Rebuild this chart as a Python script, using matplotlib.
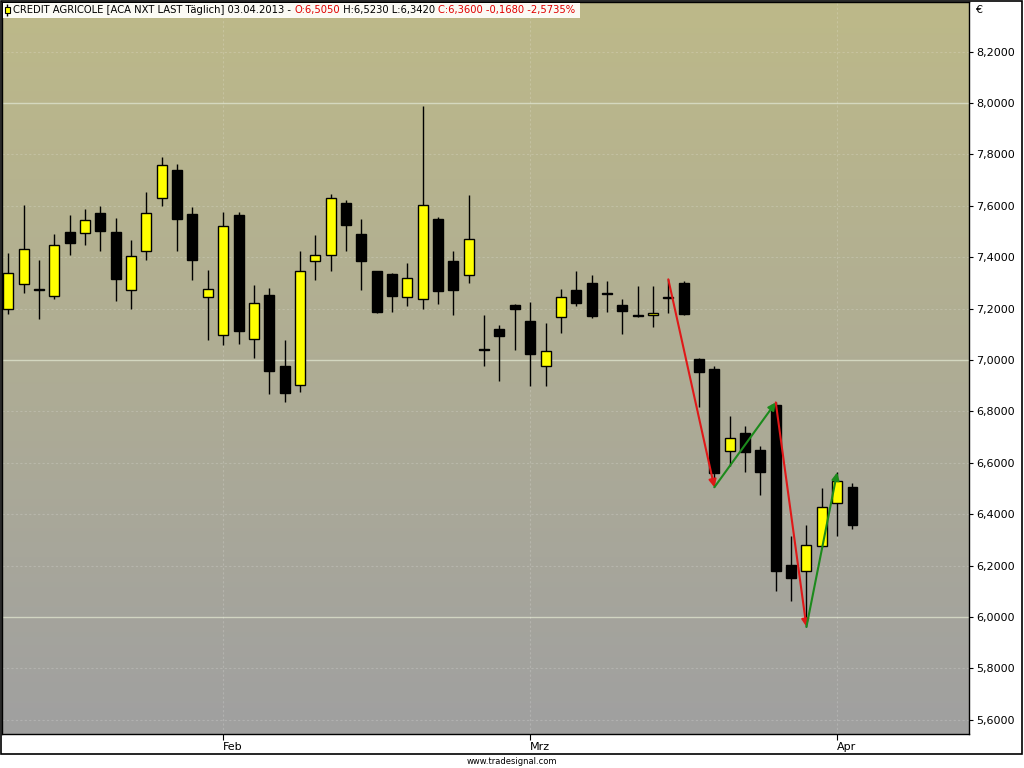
import matplotlib
matplotlib.use("Agg")
import matplotlib.pyplot as plt
import numpy as np
import pandas as pd
from matplotlib.patches import Rectangle

# trading days (Euronext, Good Friday and Easter Monday closed)
dates = [d for d in pd.bdate_range("2013-01-14", "2013-04-03")
         if d.strftime("%Y-%m-%d") not in ("2013-03-29", "2013-04-01")]

opens = [7.200, 7.297, 7.271, 7.249, 7.500, 7.495, 7.573, 7.500, 7.272, 7.424,
         7.630, 7.740, 7.569, 7.247, 7.099, 7.565, 7.083, 7.252, 6.976, 6.902,
         7.385, 7.410, 7.612, 7.489, 7.348, 7.333, 7.247, 7.239, 7.547, 7.384,
         7.332, 7.040, 7.122, 7.213, 7.151, 6.977, 7.169, 7.271, 7.298, 7.260,
         7.216, 7.171, 7.174, 7.241, 7.301, 7.003, 6.967, 6.645, 6.718, 6.650,
         6.824, 6.203, 6.179, 6.276, 6.443, 6.505]
highs = [7.417, 7.605, 7.388, 7.492, 7.566, 7.586, 7.598, 7.552, 7.466, 7.654,
         7.790, 7.764, 7.596, 7.349, 7.577, 7.577, 7.290, 7.282, 7.078, 7.426,
         7.485, 7.647, 7.624, 7.547, 7.348, 7.337, 7.376, 7.990, 7.557, 7.423,
         7.644, 7.174, 7.138, 7.217, 7.226, 7.143, 7.278, 7.345, 7.329, 7.307,
         7.236, 7.288, 7.288, 7.314, 7.307, 7.006, 6.977, 6.783, 6.744, 6.666,
         6.835, 6.317, 6.358, 6.502, 6.563, 6.523]
lows = [7.178, 7.259, 7.158, 7.236, 7.407, 7.446, 7.423, 7.228, 7.197, 7.391,
        7.598, 7.423, 7.311, 7.078, 7.059, 7.061, 7.008, 6.867, 6.837, 6.876,
        7.311, 7.346, 7.426, 7.271, 7.183, 7.187, 7.210, 7.197, 7.219, 7.175,
        7.301, 6.977, 6.917, 7.039, 6.899, 6.899, 7.104, 7.210, 7.163, 7.187,
        7.103, 7.169, 7.129, 7.184, 7.177, 6.816, 6.505, 6.589, 6.565, 6.475,
        6.103, 6.064, 5.962, 6.272, 6.317, 6.342]
closes = [7.340, 7.433, 7.271, 7.449, 7.454, 7.543, 7.501, 7.315, 7.406, 7.573,
          7.759, 7.548, 7.388, 7.278, 7.522, 7.113, 7.223, 6.958, 6.872, 7.348,
          7.410, 7.631, 7.527, 7.384, 7.187, 7.249, 7.320, 7.604, 7.268, 7.272,
          7.472, 7.040, 7.094, 7.200, 7.023, 7.037, 7.247, 7.222, 7.171, 7.255,
          7.191, 7.171, 7.184, 7.241, 7.179, 6.955, 6.560, 6.695, 6.641, 6.563,
          6.181, 6.151, 6.281, 6.427, 6.528, 6.360]

# zigzag pivots (index, 'H' = high / 'L' = low)
pivots = [(43, "H"), (46, "L"), (50, "H"), (52, "L"), (54, "H")]

month_names = {2: "Feb", 3: "Mrz", 4: "Apr"}
y_ticks = [5.6, 5.8, 6.0, 6.2, 6.4, 6.6, 6.8, 7.0, 7.2, 7.4, 7.6, 7.8, 8.0, 8.2]

W, H = 1024, 768
fig = plt.figure(figsize=(W / 100, H / 100), dpi=100)
fig.patch.set_facecolor("white")

ax = fig.add_axes([2 / W, (H - 734) / H, 967 / W, 732 / H])
ymin, ymax = 5.545, 8.393
ax.set_ylim(ymin, ymax)
ax.set_xlim(-0.41, 62.59)

# gradient background
grad = np.linspace(0, 1, 256)[:, None]
top = np.array([189, 185, 137]) / 255
bot = np.array([160, 160, 160]) / 255
img = top[None, None, :] * (1 - grad[..., None]) + bot[None, None, :] * grad[..., None]
ax.imshow(img, extent=[-0.41, 62.59, ymin, ymax], aspect="auto", zorder=0,
          origin="upper")

# grid
for v in y_ticks:
    if abs(v - round(v)) < 1e-6:
        ax.axhline(v, color="#DDE2CC", lw=1, alpha=0.8, zorder=1)
    else:
        ax.axhline(v, color="white", lw=0.8, alpha=0.18, ls=(0, (2, 2)), zorder=1)

n = len(opens)
month_pos = [i for i in range(1, n) if dates[i].month != dates[i - 1].month]
for i in month_pos:
    ax.axvline(i, color="white", lw=0.8, alpha=0.18, ls=(0, (2, 2)), zorder=1)

# candles
body_w = 0.65
for i in range(n):
    o, h, l, c = opens[i], highs[i], lows[i], closes[i]
    ax.vlines(i, l, h, color="black", lw=1, zorder=3)
    lo_b = min(o, c)
    hi_b = max(o, c)
    fc = "#FFFF00" if c > o else "black"
    hgt = max(hi_b - lo_b, 0.004)
    ax.add_patch(Rectangle((i - body_w / 2, lo_b), body_w, hgt,
                           fc=fc, ec="black", lw=1, zorder=4))

# zigzag arrows
for (i0, k0), (i1, k1) in zip(pivots[:-1], pivots[1:]):
    y0 = highs[i0] if k0 == "H" else lows[i0]
    y1 = highs[i1] if k1 == "H" else lows[i1]
    col = "#E01818" if y1 < y0 else "#1C8A1C"
    ax.annotate("", xy=(i1, y1), xytext=(i0, y0),
                arrowprops=dict(arrowstyle="-|>", color=col, lw=1.5,
                                mutation_scale=11, shrinkA=0, shrinkB=0),
                zorder=5)

# axes styling
for s in ax.spines.values():
    s.set_color("black")
    s.set_linewidth(1)
ax.yaxis.tick_right()
ax.set_yticks(y_ticks)
ax.set_yticklabels([f"{v:.4f}".replace(".", ",") for v in y_ticks], fontsize=8)
ax.tick_params(axis="y", direction="out", length=3, pad=2, colors="black")
ax.set_xticks(month_pos)
ax.set_xticklabels([month_names[dates[i].month] for i in month_pos], fontsize=8,
                   ha="left")
ax.tick_params(axis="x", direction="out", length=4, pad=2)

# overlay axes for frame and title (on top of the chart)
bg = fig.add_axes([0, 0, 1, 1])
bg.set_zorder(10)
bg.patch.set_visible(False)
bg.set_xlim(0, W)
bg.set_ylim(H, 0)
bg.axis("off")
bg.add_patch(Rectangle((1, 1), 1021, 753, fill=False, ec="black", lw=1.2))
bg.text(512, 761, "www.tradesignal.com", ha="center", va="center", fontsize=6)
bg.text(975, 10, "€", ha="left", va="center", fontsize=8)

# title line with coloured parts
bg.add_patch(Rectangle((2.5, 2.5), 577, 15, fc="#FBFAF4", ec="none", zorder=2))
bg.vlines(7, 4, 16, color="black", lw=1, zorder=3)
bg.add_patch(Rectangle((4.5, 7), 5, 6, fc="#FFFF00", ec="black", lw=0.8, zorder=4))
parts = [("CREDIT AGRICOLE [ACA NXT LAST Täglich] 03.04.2013 - ", "black"),
         ("O:6,5050", "#E00000"),
         (" H:6,5230 L:6,3420 ", "black"),
         ("C:6,3600 -0,1680 -2,5735%", "#E00000")]
t = bg.text(13, 10, parts[0][0], color=parts[0][1], fontsize=7.2, va="center",
            ha="left", zorder=5)
for s, col in parts[1:]:
    t = bg.annotate(s, xy=(1, 0.5), xycoords=t, va="center", ha="left",
                    color=col, fontsize=7.2, zorder=5)

fig.savefig("out.png", dpi=100)
